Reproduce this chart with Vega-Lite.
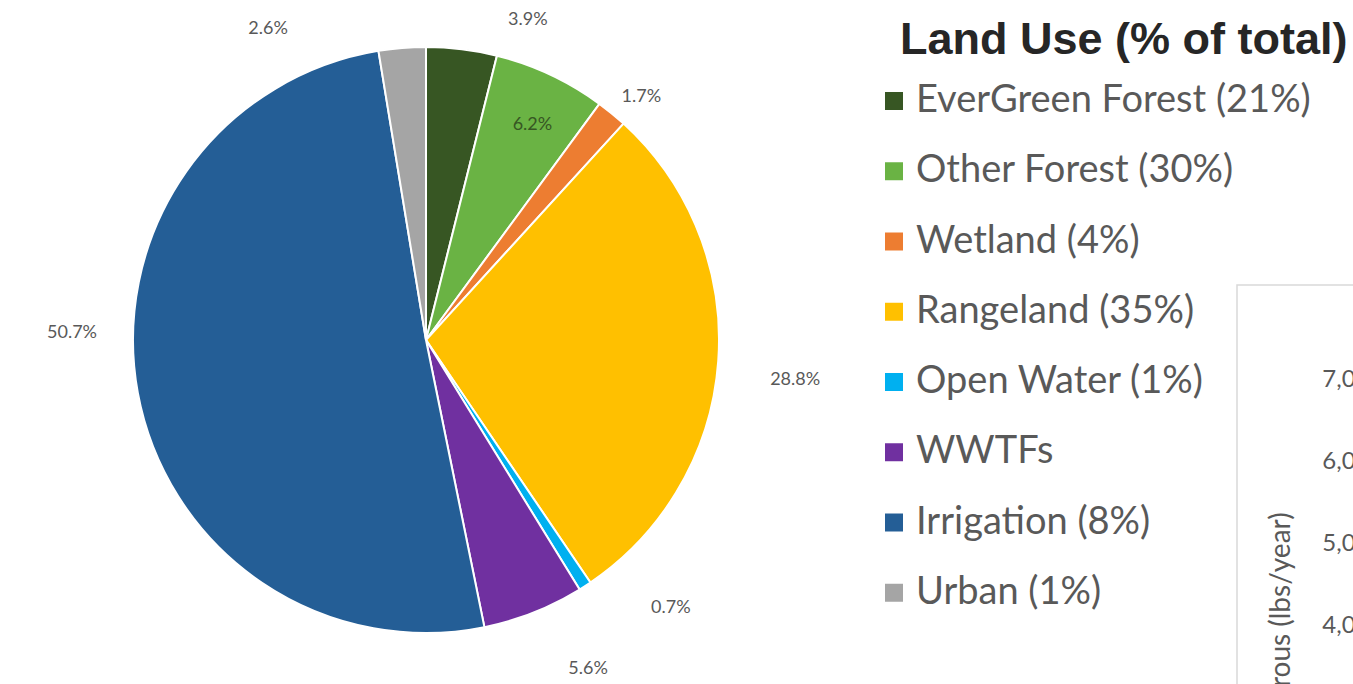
{
  "$schema": "https://vega.github.io/schema/vega-lite/v6.json",
  "autosize": {"type": "none"},
  "padding": {"left": 133, "top": 47, "right": 1220, "bottom": 637},
  "background": "white",
  "spacing": 518,
  "bounds": "flush",
  "config": {"font": "Lato"},
  "hconcat": [
    {
      "width": 586,
      "height": 586,
      "view": {"stroke": null},
      "data": {
        "values": [
          {"source": "EverGreen Forest (21%)", "share": 0.039, "idx": 1},
          {"source": "Other Forest (30%)", "share": 0.062, "idx": 2},
          {"source": "Wetland (4%)", "share": 0.017, "idx": 3},
          {"source": "Rangeland (35%)", "share": 0.288, "idx": 4},
          {"source": "Open Water (1%)", "share": 0.007, "idx": 5},
          {"source": "WWTFs", "share": 0.056, "idx": 6},
          {"source": "Irrigation (8%)", "share": 0.507, "idx": 7},
          {"source": "Urban (1%)", "share": 0.026, "idx": 8}
        ]
      },
      "encoding": {
        "theta": {"field": "share", "type": "quantitative", "stack": true},
        "order": {"field": "idx", "type": "quantitative"},
        "detail": {"field": "source", "type": "nominal"}
      },
      "layer": [
        {
          "mark": {"type": "arc", "stroke": "white", "strokeWidth": 2},
          "encoding": {
            "color": {
              "field": "source",
              "type": "nominal",
              "scale": {
                "domain": ["EverGreen Forest (21%)", "Other Forest (30%)", "Wetland (4%)", "Rangeland (35%)", "Open Water (1%)", "WWTFs", "Irrigation (8%)", "Urban (1%)"],
                "range": ["#375623", "#6AB344", "#ED7D31", "#FFC000", "#00B0F0", "#7030A0", "#245E96", "#A5A5A5"]
              },
              "legend": {
                "title": "Land Use (% of total)",
                "orient": "none",
                "legendX": 767,
                "legendY": -29,
                "padding": 0,
                "titleFont": "Liberation Sans",
                "titleFontSize": 45,
                "titleFontWeight": "bold",
                "titleColor": "#262626",
                "titleLimit": 800,
                "titlePadding": 19,
                "labelFont": "Lato",
                "labelFontSize": 38,
                "labelColor": "#595959",
                "labelLimit": 800,
                "labelOffset": 3,
                "symbolType": "square",
                "symbolSize": 324,
                "symbolStrokeWidth": 0,
                "symbolOffset": -25,
                "rowPadding": 32.25
              }
            }
          }
        },
        {
          "mark": {"type": "text", "radius": 335, "dx": 61, "dy": 12.5, "fontSize": 18, "fill": "#595959"},
          "encoding": {"text": {"condition": {"test": "datum.idx == 1", "field": "share", "type": "quantitative", "format": ".1%"}, "value": ""}}
        },
        {
          "mark": {"type": "text", "radius": 241, "dx": 4, "dy": 3, "fontSize": 18, "fill": "#375623"},
          "encoding": {"text": {"condition": {"test": "datum.idx == 2", "field": "share", "type": "quantitative", "format": ".1%"}, "value": ""}}
        },
        {
          "mark": {"type": "text", "radius": 335, "dx": 3, "dy": 16, "fontSize": 18, "fill": "#595959"},
          "encoding": {"text": {"condition": {"test": "datum.idx == 3", "field": "share", "type": "quantitative", "format": ".1%"}, "value": ""}}
        },
        {
          "mark": {"type": "text", "radius": 335, "dx": 35, "dy": 16, "fontSize": 18, "fill": "#595959"},
          "encoding": {"text": {"condition": {"test": "datum.idx == 4", "field": "share", "type": "quantitative", "format": ".1%"}, "value": ""}}
        },
        {
          "mark": {"type": "text", "radius": 335, "dx": 63, "dy": -13, "fontSize": 18, "fill": "#595959"},
          "encoding": {"text": {"condition": {"test": "datum.idx == 5", "field": "share", "type": "quantitative", "format": ".1%"}, "value": ""}}
        },
        {
          "mark": {"type": "text", "radius": 335, "dx": 39, "dy": 17.5, "fontSize": 18, "fill": "#595959"},
          "encoding": {"text": {"condition": {"test": "datum.idx == 6", "field": "share", "type": "quantitative", "format": ".1%"}, "value": ""}}
        },
        {
          "mark": {"type": "text", "radius": 335, "dx": -24.5, "dy": -67.5, "fontSize": 18, "fill": "#595959"},
          "encoding": {"text": {"condition": {"test": "datum.idx == 7", "field": "share", "type": "quantitative", "format": ".1%"}, "value": ""}}
        },
        {
          "mark": {"type": "text", "radius": 335, "dx": -130.6, "dy": 23, "fontSize": 18, "fill": "#595959"},
          "encoding": {"text": {"condition": {"test": "datum.idx == 8", "field": "share", "type": "quantitative", "format": ".1%"}, "value": ""}}
        }
      ]
    },
    {
      "spacing": 237,
      "bounds": "flush",
      "vconcat": [
        {
          "width": 300,
          "height": 1,
          "view": {"stroke": null},
          "data": {"values": [{"note": ""}]},
          "mark": {"type": "text"},
          "encoding": {"text": {"field": "note", "type": "nominal"}}
        },
        {
          "width": 300,
          "height": 667,
          "view": {"stroke": "#D9D9D9", "strokeWidth": 1.5},
          "data": {"values": [{"phosphorous": 7000}]},
          "mark": {"type": "point", "opacity": 0},
          "encoding": {
            "y": {
              "field": "phosphorous",
              "type": "quantitative",
              "scale": {"domain": [0, 8160], "nice": false},
              "axis": {
                "title": "Phosphorous (lbs/year)",
                "orient": "left",
                "offset": -154,
                "values": [0, 1000, 2000, 3000, 4000, 5000, 6000, 7000],
                "format": ",.0f",
                "domain": false,
                "ticks": false,
                "grid": false,
                "labelPadding": 8,
                "labelFont": "Lato",
                "labelFontSize": 24,
                "labelColor": "#595959",
                "titleFont": "Lato",
                "titleFontSize": 28,
                "titleFontWeight": "normal",
                "titleColor": "#595959",
                "titlePadding": 26,
                "titleY": 368
              }
            }
          }
        }
      ]
    }
  ]
}
